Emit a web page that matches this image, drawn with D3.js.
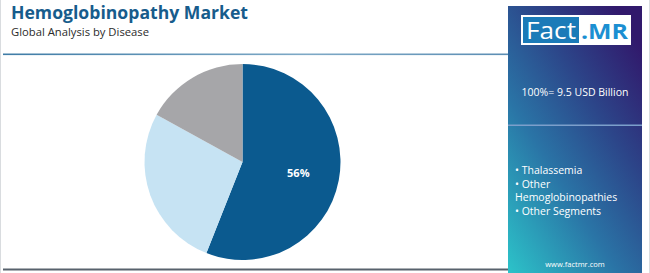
<!DOCTYPE html>
<html>
<head>
<meta charset="utf-8">
<script src="https://cdn.jsdelivr.net/npm/d3@7"></script>
<style>
  body { margin: 0; background: #fff; }
  svg { display: block; font-family: "Open Sans", "Noto Sans", sans-serif; }
</style>
</head>
<body>
<div id="main"></div>
<script>
// data
const segments = ['Thalassemia', 'Other Hemoglobinopathies', 'Other Segments'];
const shares = [56, 27, 17];
const sliceColors = ['#0b5a8f', '#c6e3f3', '#a6a6a9'];
const legendLines = ['• Thalassemia', '• Other', 'Hemoglobinopathies', '• Other Segments'];
const totalText = '100%= 9.5 USD Billion';

const width = 650;
const height = 273;

const svg = d3.select('#main').append('svg')
    .attr('width', width)
    .attr('height', height);

const defs = svg.append('defs');
const grad = defs.append('linearGradient')
    .attr('id', 'panelGrad')
    .attr('x1', '0').attr('y1', '1')
    .attr('x2', '0.8').attr('y2', '0');
grad.append('stop').attr('offset', '0%').attr('stop-color', '#2cc3c9');
grad.append('stop').attr('offset', '40%').attr('stop-color', '#2a74a6');
grad.append('stop').attr('offset', '70%').attr('stop-color', '#2c4589');
grad.append('stop').attr('offset', '100%').attr('stop-color', '#31196c');

const lineGrad = defs.append('linearGradient')
    .attr('id', 'ruleGrad')
    .attr('x1', '0').attr('y1', '0').attr('x2', '1').attr('y2', '0');
lineGrad.append('stop').attr('offset', '0%').attr('stop-color', '#3f7ca6');
lineGrad.append('stop').attr('offset', '60%').attr('stop-color', '#7ea9c6');
lineGrad.append('stop').attr('offset', '100%').attr('stop-color', '#5b8db3');

// outer frame
svg.append('rect')
    .attr('x', 0.5).attr('y', -2)
    .attr('width', width - 1).attr('height', height + 4)
    .attr('fill', '#fff')
    .attr('stroke', '#d9dcdf');

// title block
svg.append('text')
    .attr('x', 11).attr('y', 19)
    .attr('font-size', 18.5)
    .attr('font-weight', 700)
    .attr('fill', '#175c8c')
    .attr('textLength', 237)
    .attr('lengthAdjust', 'spacingAndGlyphs')
    .text('Hemoglobinopathy Market');
svg.append('text')
    .attr('x', 11).attr('y', 36)
    .attr('font-size', 11.5)
    .attr('fill', '#2b2b2b')
    .attr('textLength', 138)
    .attr('lengthAdjust', 'spacingAndGlyphs')
    .text('Global Analysis by Disease');

svg.append('rect')
    .attr('x', 3).attr('y', 53.5)
    .attr('width', 505).attr('height', 1.6)
    .attr('fill', 'url(#ruleGrad)');

svg.append('rect')
    .attr('x', 3).attr('y', 268.5)
    .attr('width', 505).attr('height', 2)
    .attr('fill', '#58626d');

// pie
const cx = 242.5, cy = 162, r = 98;
const pie = d3.pie().sort(null).value(d => d);
const arc = d3.arc().innerRadius(0).outerRadius(r);
const labelArc = d3.arc().innerRadius(r * 0.58).outerRadius(r * 0.58);
const arcs = pie(shares);

const chart = svg.append('g').attr('transform', `translate(${cx}, ${cy})`);
chart.selectAll('path')
    .data(arcs)
    .enter()
    .append('path')
    .attr('d', arc)
    .attr('fill', (d, i) => sliceColors[i]);

chart.selectAll('text')
    .data(arcs.filter(d => d.data >= 50))
    .enter()
    .append('text')
    .attr('transform', d => `translate(${labelArc.centroid(d)})`)
    .attr('text-anchor', 'middle')
    .attr('dy', '0.35em')
    .attr('font-size', 11)
    .attr('font-weight', 700)
    .attr('fill', '#fff')
    .text(d => d.data + '%');

// side panel
const px = 508, pw = 134;
svg.append('rect')
    .attr('x', px).attr('y', 6)
    .attr('width', pw).attr('height', height - 6)
    .attr('fill', 'url(#panelGrad)');

const logo = svg.append('g');
logo.append('rect')
    .attr('x', 521).attr('y', 15)
    .attr('width', 110).attr('height', 30)
    .attr('fill', '#fff');
logo.append('rect')
    .attr('x', 523).attr('y', 17)
    .attr('width', 56).attr('height', 26)
    .attr('fill', '#1b7bb8');
logo.append('text')
    .attr('x', 526).attr('y', 39)
    .attr('font-size', 23)
    .attr('fill', '#fff')
    .attr('textLength', 50)
    .attr('lengthAdjust', 'spacingAndGlyphs')
    .text('Fact');
logo.append('text')
    .attr('x', 581).attr('y', 39)
    .attr('font-size', 22)
    .attr('font-weight', 700)
    .attr('fill', '#1b8fd2')
    .attr('textLength', 47)
    .attr('lengthAdjust', 'spacingAndGlyphs')
    .text('.MR');

svg.append('text')
    .attr('x', px + pw / 2).attr('y', 96)
    .attr('text-anchor', 'middle')
    .attr('font-size', 10.5)
    .attr('fill', '#fff')
    .text(totalText);

svg.append('rect')
    .attr('x', px).attr('y', 124.5)
    .attr('width', pw).attr('height', 1.5)
    .attr('fill', '#7c9fcb');

svg.append('g').selectAll('text')
    .data(legendLines)
    .enter()
    .append('text')
    .attr('x', 515)
    .attr('y', (d, i) => 174 + i * 13.7)
    .attr('font-size', 10.5)
    .attr('fill', '#fff')
    .text(d => d);

svg.append('text')
    .attr('x', px + pw / 2).attr('y', 267)
    .attr('text-anchor', 'middle')
    .attr('font-size', 7.5)
    .attr('fill', '#fff')
    .text('www.factmr.com');
</script>
</body>
</html>
